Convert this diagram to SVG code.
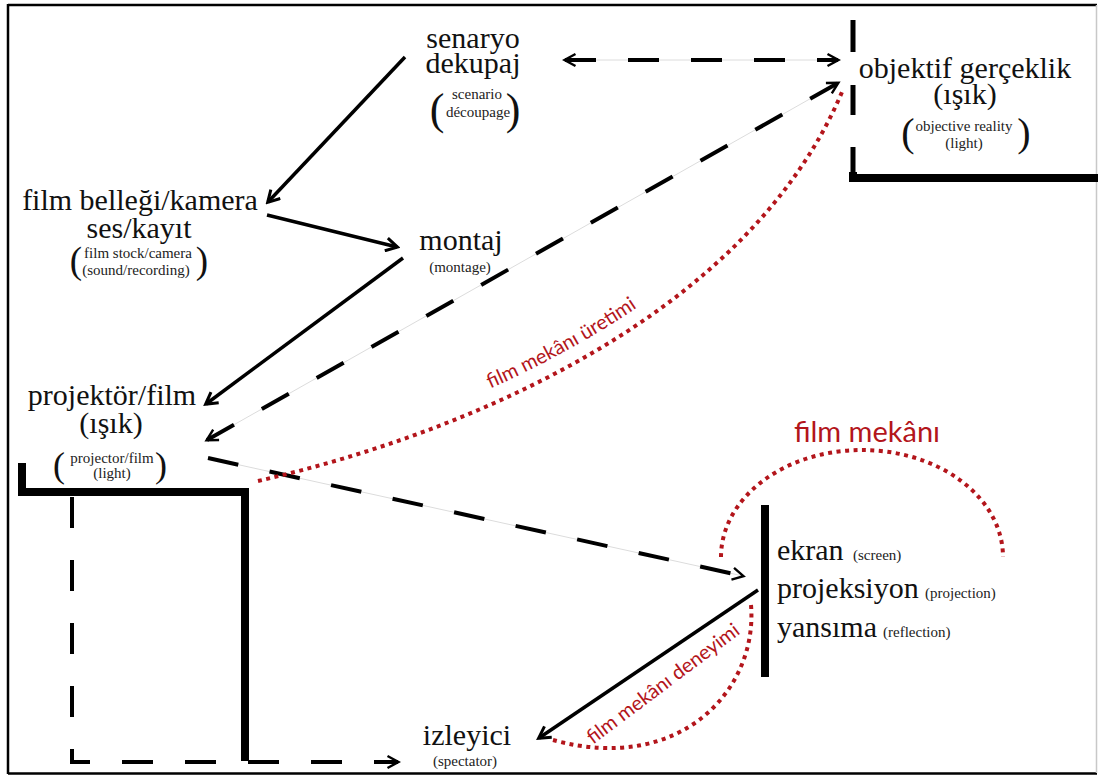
<svg xmlns="http://www.w3.org/2000/svg" width="1098" height="776" viewBox="0 0 1098 776">
<defs>
<style>
.t{font-family:"Liberation Serif","Times New Roman",serif;font-size:30px;fill:#111;text-anchor:middle}
.ts{font-family:"Liberation Serif","Times New Roman",serif;font-size:15px;fill:#222;text-anchor:middle}
.tl{font-family:"Liberation Serif","Times New Roman",serif;font-size:30px;fill:#111}
.sl{font-family:"Liberation Serif","Times New Roman",serif;font-size:15px;fill:#222}
.par{font-family:"Liberation Serif","Times New Roman",serif;fill:#111;text-anchor:middle}
.red{font-family:Lato,"Open Sans",sans-serif;fill:#b3151b;text-anchor:middle}
.solid{stroke:#000;stroke-width:3.5;fill:none;marker-end:url(#ahs)}
.dash{stroke:#000;stroke-width:4;fill:none;stroke-dasharray:31 32}
.faint{stroke:#dcdcdc;stroke-width:1;fill:none}
.dot{stroke:#b3151b;stroke-width:4;fill:none;stroke-dasharray:4 4.5}
.wall{stroke:#000;stroke-width:8;fill:none}
</style>
<marker id="ahs" viewBox="0 0 16 16" refX="13" refY="8" markerWidth="16" markerHeight="16" markerUnits="userSpaceOnUse" orient="auto-start-reverse">
<path d="M2,1.5 L13.5,8 L2,14.5" fill="none" stroke="#000" stroke-width="3"/>
</marker>
<marker id="ahd" viewBox="0 0 16 16" refX="13" refY="8" markerWidth="16" markerHeight="16" markerUnits="userSpaceOnUse" orient="auto-start-reverse">
<path d="M2.5,2 L13.5,8 L2.5,14" fill="none" stroke="#000" stroke-width="2.4"/>
</marker>
<path id="pUretim" d="M253,467 C475,416 745,296 837,78" fill="none"/>
</defs>
<rect x="0" y="0" width="1098" height="776" fill="#fff"/>
<g id="frame" fill="none">
<path d="M8,5 L1097,5 M8,4 L8,774 M8,773.5 L1097,773.5" stroke="#000" stroke-width="2.5"/>
<path d="M1096.5,5 L1096.5,773" stroke="#c8c8c8" stroke-width="1.5"/>
</g>

<g id="walls">
<path class="wall" d="M22,463 L22,492 L245,492 L245,761"/>
<path class="wall" d="M853,172 L853,178 L1098,178"/>
<path d="M853,20 L853,52 M853,85 L853,115 M853,147 L853,178" stroke="#000" stroke-width="5" fill="none"/>
<path class="wall" d="M765,505 L765,677" stroke-width="9"/>
</g>

<g id="connectors">
<line class="faint" x1="565" y1="60" x2="838" y2="60"/>
<path class="dash" d="M565,60 L838,60" stroke-dasharray="30 32" marker-start="url(#ahd)" marker-end="url(#ahd)"/>
<line class="faint" x1="207" y1="440" x2="838" y2="83"/>
<path class="dash" d="M207,440 L838,83" stroke-dasharray="32 25.75" marker-start="url(#ahd)" marker-end="url(#ahd)"/>
<line class="faint" x1="208" y1="458" x2="743" y2="576"/>
<path class="dash" d="M208,458 L743,576" stroke-dasharray="31 33.7" marker-end="url(#ahd)"/>
<path class="dash" d="M72,497 L72,762 L398,762" marker-end="url(#ahd)"/>
<path class="solid" d="M405,57 L268,202"/>
<path class="solid" d="M267,215 L397,247"/>
<path class="solid" d="M403,258 L206,404"/>
<path class="solid" d="M758,590 L539,738"/>
<path class="dot" d="M258,481 C480,430 750,310 842,92"/>
<path class="dot" d="M721,557 A141,107 0 0 1 1003,557"/>
<path class="dot" d="M751,605 C758,690 680,775 553,740"/>
</g>

<g id="senaryo">
<text class="t" x="473" y="48">senaryo</text>
<text class="t" x="473" y="73">dekupaj</text>
<text class="par" x="437" y="124" font-size="44">(</text>
<text class="ts" x="477" y="99">scenario</text>
<text class="ts" x="478" y="117">découpage</text>
<text class="par" x="513" y="124" font-size="44">)</text>
</g>

<g id="objektif">
<text class="t" x="965" y="78">objektif gerçeklik</text>
<text class="t" x="965" y="104">(ışık)</text>
<text class="par" x="908" y="146" font-size="40">(</text>
<text class="ts" x="964" y="131">objective reality</text>
<text class="ts" x="964" y="148">(light)</text>
<text class="par" x="1024" y="146" font-size="40">)</text>
</g>

<g id="filmbellegi">
<text class="t" x="140" y="210">film belleği/kamera</text>
<text class="t" x="139" y="238">ses/kayıt</text>
<text class="par" x="76" y="273" font-size="37">(</text>
<text class="ts" x="138" y="258">film stock/camera</text>
<text class="ts" x="136" y="275">(sound/recording)</text>
<text class="par" x="202" y="273" font-size="37">)</text>
</g>

<g id="montaj">
<text class="t" x="461" y="250">montaj</text>
<text class="ts" x="460" y="272">(montage)</text>
</g>

<g id="projektor">
<text class="t" x="112" y="405">projektör/film</text>
<text class="t" x="111" y="433">(ışık)</text>
<text class="par" x="59" y="477" font-size="36">(</text>
<text class="ts" x="112" y="463">projector/film</text>
<text class="ts" x="112" y="478">(light)</text>
<text class="par" x="161" y="477" font-size="36">)</text>
</g>

<g id="ekran">
<text class="tl" x="777" y="560">ekran</text>
<text class="sl" x="853" y="560">(screen)</text>
<text class="tl" x="777" y="598">projeksiyon</text>
<text class="sl" x="925" y="598">(projection)</text>
<text class="tl" x="777" y="637">yansıma</text>
<text class="sl" x="883" y="637">(reflection)</text>
</g>

<g id="izleyici">
<text class="t" x="467" y="745">izleyici</text>
<text class="ts" x="465" y="766">(spectator)</text>
</g>

<g id="labels">
<text class="red" x="867" y="442" font-size="29">film mekânı</text>
<text class="red" font-size="20"><textPath href="#pUretim" startOffset="46%">film mekânı üretimi</textPath></text>
<text class="red" font-size="20" transform="translate(667,689) rotate(-37)">film mekânı deneyimi</text>
</g>
</svg>
